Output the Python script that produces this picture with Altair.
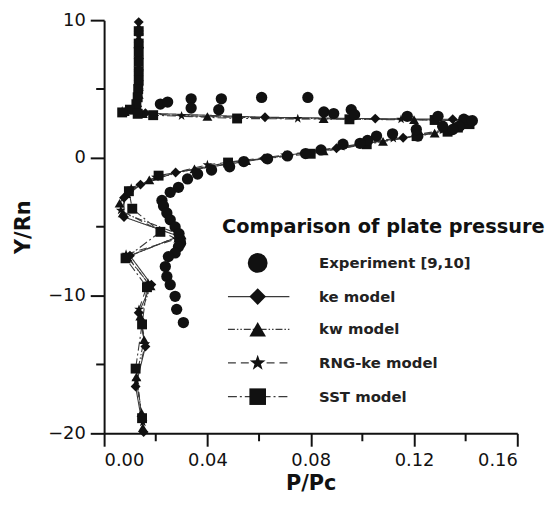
import altair as alt
import pandas as pd

# ---------------- data ----------------
exp_x = [0.0218, 0.0246, 0.0337, 0.0337, 0.0454, 0.0444, 0.0610, 0.0789, 0.0851, 0.0889,
         0.0957, 0.0970, 0.1174, 0.1293, 0.1393, 0.1426, 0.1375, 0.1350, 0.1311, 0.1215,
         0.1209, 0.1117, 0.1055, 0.1020, 0.0991, 0.0925, 0.0840, 0.0780, 0.0710, 0.0633,
         0.0541, 0.0486, 0.0416, 0.0362, 0.0323, 0.0288, 0.0256, 0.0224, 0.0230, 0.0243,
         0.0256, 0.0275, 0.0290, 0.0294, 0.0296, 0.0288, 0.0275, 0.0249, 0.0237, 0.0243,
         0.0256, 0.0275, 0.0281, 0.0307]
exp_y = [3.91, 4.05, 4.29, 3.62, 4.29, 3.50, 4.39, 4.39, 3.33, 3.22,
         3.50, 3.14, 3.02, 3.02, 2.81, 2.70, 2.30, 2.06, 2.30, 1.58,
         2.06, 1.75, 1.58, 1.27, 1.06, 0.99, 0.58, 0.31, 0.14, -0.07,
         -0.27, -0.65, -0.88, -1.17, -1.53, -2.14, -2.50, -3.09, -3.50, -4.00,
         -4.50, -5.01, -5.50, -5.97, -6.20, -6.45, -6.90, -7.17, -7.89, -8.61,
         -9.21, -10.05, -11.00, -11.96]

ke_x = [0.0134, 0.0134, 0.0134, 0.0134, 0.0134, 0.0134, 0.0134, 0.0130, 0.0125, 0.0090,
        0.0160, 0.0623, 0.1050, 0.1350, 0.1425, 0.1390, 0.1350, 0.1158, 0.0900, 0.0620,
        0.0277, 0.0141, 0.0077, 0.0077, 0.0290, 0.0100, 0.0183, 0.0134, 0.0160, 0.0122,
        0.0153]
ke_y = [9.86, 9.0, 8.0, 7.2, 6.4, 5.6, 4.9, 4.3, 3.8, 3.4,
        3.25, 2.95, 2.85, 2.80, 2.70, 2.35, 2.05, 1.46, 0.70, -0.05,
        -1.06, -1.94, -2.90, -4.29, -5.70, -7.10, -9.20, -11.24, -13.70, -16.60,
        -19.90]

kw_x = [0.0134, 0.0134, 0.0134, 0.0134, 0.0134, 0.0134, 0.0128, 0.0115, 0.0080, 0.0150,
        0.0400, 0.0850, 0.1200, 0.1410, 0.1400, 0.1280, 0.1080, 0.0850, 0.0550, 0.0350,
        0.0175, 0.0085, 0.0060, 0.0072, 0.0300, 0.0090, 0.0180, 0.0140, 0.0155, 0.0125,
        0.0145, 0.0150]
kw_y = [9.5, 8.7, 7.5, 6.6, 5.3, 4.6, 4.0, 3.6, 3.35, 3.2,
        3.0, 2.85, 2.78, 2.68, 2.40, 1.80, 1.20, 0.50, -0.20, -0.80,
        -1.60, -2.60, -3.30, -4.00, -5.60, -7.20, -9.30, -11.50, -13.20, -15.90,
        -18.50, -19.60]

rng_x = [0.0134, 0.0134, 0.0134, 0.0134, 0.0134, 0.0130, 0.0110, 0.0070, 0.0140, 0.0300,
         0.0750, 0.1150, 0.1405, 0.1410, 0.1310, 0.1120, 0.0920, 0.0700, 0.0400, 0.0200,
         0.0105, 0.0064, 0.0280, 0.0085, 0.0170, 0.0135, 0.0160, 0.0125, 0.0150]
rng_y = [9.3, 8.5, 7.3, 6.0, 5.1, 4.1, 3.6, 3.4, 3.25, 3.05,
         2.85, 2.80, 2.72, 2.50, 2.00, 1.40, 0.80, 0.20, -0.50, -1.40,
         -2.20, -3.81, -5.90, -7.00, -9.10, -11.00, -13.50, -16.20, -19.20]

sst_x = [0.0134, 0.0134, 0.0134, 0.0134, 0.0134, 0.0134, 0.0132, 0.0130, 0.0125, 0.0100,
         0.0070, 0.0130, 0.0190, 0.0515, 0.0950, 0.1280, 0.1400, 0.1415, 0.1370, 0.1330,
         0.1210, 0.1017, 0.0800, 0.0480, 0.0211, 0.0096, 0.0109, 0.0218, 0.0083, 0.0166,
         0.0147, 0.0122, 0.0147]
sst_y = [9.2, 8.3, 7.7, 7.0, 6.3, 5.6, 5.0, 4.4, 3.9, 3.5,
         3.3, 3.2, 3.1, 2.86, 2.80, 2.75, 2.70, 2.45, 2.20, 1.90,
         1.58, 0.99, 0.30, -0.34, -1.29, -2.42, -3.69, -5.37, -7.29, -9.39,
         -12.09, -15.30, -18.90]

models = ["ke model", "kw model", "RNG-ke model", "SST model"]
model_x = [ke_x, kw_x, rng_x, sst_x]
model_y = [ke_y, kw_y, rng_y, sst_y]

x_ticks = [0.00, 0.04, 0.08, 0.12, 0.16]
x_minor = [0.02, 0.06, 0.10, 0.14]
y_ticks = [-20, -10, 0, 10]
y_minor = [-15, -5, 5]

legend_title = "Comparison of plate pressure"
legend_labels = ["Experiment [9,10]", "ke model", "kw model", "RNG-ke model", "SST model"]

# ---------------- build tables ----------------
exp_df = pd.DataFrame({"x": exp_x, "y": exp_y})
rows = []
for m, xs_, ys_ in zip(models, model_x, model_y):
    for i, (a, b) in enumerate(zip(xs_, ys_)):
        rows.append({"x": a, "y": b, "model": m, "i": i})
mod_df = pd.DataFrame(rows)

STAR = ("M0,-1L0.235,-0.324L0.951,-0.309L0.38,0.124L0.588,0.809L0,0.4L-0.588,0.809"
        "L-0.38,0.124L-0.951,-0.309L-0.235,-0.324Z")
shapes = ["diamond", "triangle-up", STAR, "square"]
dashes = [[1, 0], [7, 2, 1.5, 2, 1.5, 2], [8, 5], [9, 3, 2, 3]]

FONT = "DejaVu Sans"
W = 417
H = 417

xs = alt.Scale(domain=[0, 0.16], nice=False, zero=False)
ys = alt.Scale(domain=[-20, 10], nice=False, zero=False)

X = alt.X("x:Q", scale=xs, axis=alt.Axis(
    values=x_ticks, format=".2f", title="P/Pc", grid=False,
    labelFont=FONT, labelFontSize=18, labelColor="#111", labelPadding=5,
    tickSize=13, tickWidth=2, tickColor="#111",
    domainWidth=2, domainColor="#111",
    titleFont=FONT, titleFontSize=21, titleFontWeight="bold", titleColor="#111",
    titlePadding=4))
Y = alt.Y("y:Q", scale=ys, axis=alt.Axis(
    values=y_ticks, format="d", title="Y/Rn", grid=False,
    labelFont=FONT, labelFontSize=18, labelColor="#111", labelPadding=5,
    tickSize=14, tickWidth=2, tickColor="#111",
    domainWidth=2, domainColor="#111",
    titleFont=FONT, titleFontSize=21, titleFontWeight="bold", titleColor="#111",
    titlePadding=14))

lines = alt.Chart(mod_df).mark_line(strokeWidth=1.1, color="#3a3a3a").encode(
    x=X, y=Y, order="i:Q", detail="model:N",
    strokeDash=alt.StrokeDash("model:N", scale=alt.Scale(domain=models, range=dashes), legend=None),
)
pts = alt.Chart(mod_df).mark_point(filled=True, color="#111", opacity=1, size=100).encode(
    x="x:Q", y="y:Q",
    shape=alt.Shape("model:N", scale=alt.Scale(domain=models, range=shapes), legend=None),
)
exp_pts = alt.Chart(exp_df).mark_circle(color="#111", opacity=1, size=130).encode(
    x="x:Q", y="y:Q")

# minor ticks
xminor = alt.Chart(pd.DataFrame({"v": x_minor})).mark_rule(color="#111", strokeWidth=2).encode(
    x=alt.X("v:Q", scale=xs), y=alt.value(H), y2=alt.value(H + 8))
yminor = alt.Chart(pd.DataFrame({"v": y_minor})).mark_rule(color="#111", strokeWidth=2).encode(
    y=alt.Y("v:Q", scale=ys), x=alt.value(0), x2=alt.value(-8))

# legend (pixel layout within the plot area)
lx_sym = 155
lx_l0, lx_l1 = 125, 187
lx_txt = 217
row_y = [245, 279, 312, 346, 380]
base = alt.Chart(pd.DataFrame({"a": [0]}))
legend_layers = [
    base.mark_text(text=legend_title, font=FONT, fontSize=19.5, fontWeight="bold",
                   align="left", baseline="middle", color="#111").encode(
        x=alt.value(119), y=alt.value(209)),
    base.mark_circle(color="#111", opacity=1, size=400).encode(
        x=alt.value(lx_sym), y=alt.value(row_y[0])),
    base.mark_text(text=legend_labels[0], font=FONT, fontSize=15, fontWeight="bold",
                   align="left", baseline="middle", color="#222").encode(
        x=alt.value(lx_txt), y=alt.value(row_y[0])),
]
for k in range(4):
    ry = row_y[k + 1]
    legend_layers.append(
        base.mark_rule(color="#3a3a3a", strokeWidth=1.3, strokeDash=dashes[k]).encode(
            x=alt.value(lx_l0), x2=alt.value(lx_l1), y=alt.value(ry)))
    legend_layers.append(
        base.mark_point(shape=shapes[k], filled=True, color="#111", opacity=1, size=280).encode(
            x=alt.value(lx_sym), y=alt.value(ry)))
    legend_layers.append(
        base.mark_text(text=legend_labels[k + 1], font=FONT, fontSize=15, fontWeight="bold",
                       align="left", baseline="middle", color="#222").encode(
            x=alt.value(lx_txt), y=alt.value(ry)))

chart = alt.layer(lines, pts, exp_pts, xminor, yminor, *legend_layers).properties(
    width=W, height=H,
    autosize=alt.AutoSizeParams(type="none"),
    padding={"left": 97, "top": 10, "right": 31, "bottom": 62},
    background="white",
).configure_view(stroke=None)

chart.save("out.html", embed_options={"renderer": "svg", "actions": False})
